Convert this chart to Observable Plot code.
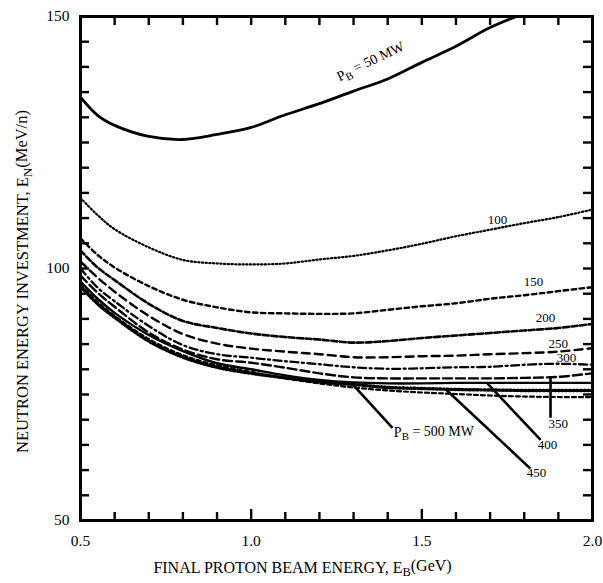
<!DOCTYPE html>
<html><head><meta charset="utf-8">
<script src="https://cdn.jsdelivr.net/npm/d3@7"></script>
<script src="https://cdn.jsdelivr.net/npm/@observablehq/plot@0.6"></script>
<style>body{margin:0;background:#fff} svg{display:block;overflow:visible}</style>
</head><body><div id="chart"></div>
<script>
// Final proton beam energy (GeV)
const xGrid = [0.5, 0.55, 0.6, 0.7, 0.8, 0.9, 1.0, 1.1, 1.2, 1.3, 1.4, 1.5, 1.6, 1.7, 1.8, 1.9, 2.0];
// Neutron energy investment (MeV/n) for each beam power
const pb50  = [134.0, 130.4, 128.4, 126.2, 125.6, 126.6, 128.0, 130.5, 132.7, 135.2, 137.6, 140.9, 144.1, 147.8, 150.6, null, null];
const pb100 = [114.0, 110.6, 107.8, 104.2, 101.7, 101.0, 100.8, 101.0, 101.8, 102.5, 103.6, 104.9, 106.4, 107.7, 109.0, 110.2, 111.7];
const pb150 = [106.0, 102.7, 100.2, 96.5, 93.8, 92.3, 91.3, 91.1, 91.0, 91.1, 91.8, 92.5, 93.1, 94.0, 94.7, 95.5, 96.3];
const pb200 = [103.6, 100.2, 97.7, 93.0, 89.6, 88.2, 87.1, 86.4, 85.9, 85.3, 85.6, 86.2, 86.7, 87.2, 87.7, 88.2, 89.0];
const pb250 = [101.4, 98.2, 95.4, 90.6, 87.0, 85.1, 84.1, 83.5, 83.0, 82.4, 82.4, 82.6, 82.7, 83.0, 83.2, 83.5, 84.2];
const pb300 = [100.0, 96.2, 93.5, 88.6, 84.8, 83.0, 82.3, 81.6, 81.0, 80.4, 80.1, 80.2, 80.4, 80.5, 80.9, 81.1, 80.9];
const pb350 = [98.6, 95.2, 92.4, 87.3, 83.9, 82.0, 81.3, 80.3, 79.2, 78.4, 78.2, 78.2, 78.2, 78.2, 78.3, 78.5, 79.2];
const pb400 = [97.4, 94.0, 91.2, 86.8, 83.6, 81.2, 80.0, 78.8, 77.9, 77.4, 77.2, 77.2, 77.3, 77.3, 77.3, 77.3, 77.3];
const pb450 = [96.4, 93.0, 90.3, 85.6, 82.4, 80.4, 79.2, 78.3, 77.5, 77.0, 76.4, 76.2, 76.0, 75.9, 75.8, 75.8, 75.8];
const pb500 = [96.8, 93.4, 90.6, 86.0, 82.8, 80.8, 79.5, 78.2, 77.2, 76.4, 75.8, 75.4, 75.1, 74.8, 74.6, 74.5, 74.5];

const powers = [50, 100, 150, 200, 250, 300, 350, 400, 450, 500];
const seriesValues = [pb50, pb100, pb150, pb200, pb250, pb300, pb350, pb400, pb450, pb500];

// tick values
const xTickLabels = [0.5, 1.0, 1.5, 2.0];
const xTicksMinor = [0.6, 0.7, 0.8, 0.9, 1.1, 1.2, 1.3, 1.4, 1.6, 1.7, 1.8, 1.9];
const xTicksMajor = [1.0, 1.5];
const yTickLabels = [50, 100, 150];
const yTicks = [55, 60, 65, 70, 75, 80, 85, 90, 95, 100, 105, 110, 115, 120, 125, 130, 135, 140, 145];

// curve labels (text, x, y)
const labelText = ["100", "150", "200", "250", "300"];
const labelX = [1.722, 1.827, 1.862, 1.90, 1.924];
const labelY = [109.6, 97.3, 90.2, 85.1, 82.2];

// leader lines for 350..500
const leaderText = ["350", "400", "450", "P_B = 500 MW"];
const leaderX1 = [1.877, 1.692, 1.569, 1.300];
const leaderY1 = [78.6, 77.2, 76.1, 76.8];
const leaderX2 = [1.877, 1.848, 1.818, 1.414];
const leaderY2 = [70.4, 66.0, 60.3, 68.4];
const leaderLabelX = [1.90, 1.868, 1.836, 1.418];
const leaderLabelY = [69.2, 65.0, 59.4, 67.5];

const rows = [];
powers.forEach((p, i) => xGrid.forEach((x, j) => {
  if (seriesValues[i][j] != null) rows.push({power: p, x, y: seriesValues[i][j]});
}));
const leaders = leaderText.map((t, i) => ({t, x1: leaderX1[i], y1: leaderY1[i], x2: leaderX2[i], y2: leaderY2[i], lx: leaderLabelX[i], ly: leaderLabelY[i]}));
const curveLabels = labelText.map((t, i) => ({t, x: labelX[i], y: labelY[i]}));

const styles = {
  50:  {strokeWidth: 2.8, dash: null},
  100: {strokeWidth: 2.2, dash: "1.3,2.4"},
  150: {strokeWidth: 2.4, dash: "4.5,3.5"},
  200: {strokeWidth: 2.6, dash: "6,2.6"},
  250: {strokeWidth: 2.4, dash: "8,5"},
  300: {strokeWidth: 2.3, dash: "8,3.5,2,3.5"},
  350: {strokeWidth: 2.4, dash: "9,4"},
  400: {strokeWidth: 2.4, dash: null},
  450: {strokeWidth: 3.4, dash: "1.5,2.2"},
  500: {strokeWidth: 2.2, dash: "4,3"}
};

const serif = "Liberation Serif, Times New Roman, serif";
const innerH = 583 - 16 - 63;
const innerW = 603 - 80 - 11;

const lineMarks = powers.map(p => Plot.line(rows.filter(d => d.power === p), {
  x: "x", y: "y", curve: "catmull-rom", stroke: "black",
  strokeWidth: styles[p].strokeWidth, strokeDasharray: styles[p].dash, clip: true
}));

const chart = Plot.plot({
  width: 603, height: 583,
  marginLeft: 80, marginRight: 11, marginTop: 16, marginBottom: 63,
  style: {fontFamily: serif, background: "white", color: "black"},
  x: {domain: [0.5, 2.0]},
  y: {domain: [50, 150]},
  marks: [
    ...lineMarks,
    // inward ticks
    Plot.tickX(xTicksMinor, {x: d => d, insetTop: innerH - 8, strokeWidth: 2.4}),
    Plot.tickX(xTicksMajor, {x: d => d, insetTop: innerH - 11, strokeWidth: 2.4}),
    Plot.tickX(xTicksMinor.concat(xTicksMajor), {x: d => d, insetBottom: innerH - 9, strokeWidth: 2.4}),
    Plot.tickY(yTicks, {y: d => d, insetRight: innerW - 9, strokeWidth: 2.4}),
    Plot.tickY(yTicks, {y: d => d, insetLeft: innerW - 9, strokeWidth: 2.4}),
    Plot.frame({stroke: "black", strokeWidth: 3}),
    Plot.axisX({ticks: xTickLabels, tickFormat: d3.format(".1f"), tickSize: 0, tickPadding: 14, fontSize: 15.5, label: null}),
    Plot.axisY({ticks: yTickLabels, tickSize: 0, tickPadding: 11, fontSize: 15.5, label: null}),
    // leader lines
    Plot.link(leaders, {x1: "x1", y1: "y1", x2: "x2", y2: "y2", stroke: "black", strokeWidth: 2.6}),
    Plot.text(leaders.filter(d => d.t.length <= 3), {x: "lx", y: "ly", text: "t", textAnchor: "middle", fontSize: 13, fill: "black"}),
    Plot.text(leaders.filter(d => d.t.length > 3), {x: "lx", y: "ly", text: "t", textAnchor: "start", fontSize: 14, fill: "black"}),
    Plot.text(curveLabels, {x: "x", y: "y", text: "t", fontSize: 13, fill: "black"}),
    Plot.text(["P_B = 50 MW"], {x: () => 1.35, y: () => 141.0, text: d => d, rotate: -25, fontSize: 14, fill: "black"}),
    // axis titles
    Plot.text(["NEUTRON ENERGY INVESTMENT, E_N(MeV/n)"], {frameAnchor: "left", textAnchor: "middle", dx: -58, dy: 13, rotate: -90, text: d => d, fontSize: 16.5, fill: "black"}),
    Plot.text(["FINAL PROTON BEAM ENERGY, E_B(GeV)"], {frameAnchor: "bottom", dx: -34, dy: 52, text: d => d, fontSize: 16, fill: "black"})
  ]
});

// turn "_X" into a subscript tspan
d3.select(chart).selectAll("text").each(function() {
  const el = this;
  if (el.querySelector("tspan")) return;
  const s = el.textContent;
  const m = s.match(/^(.*?)_([A-Z])(.*)$/);
  if (!m) return;
  el.textContent = "";
  const sel = d3.select(el);
  sel.append("tspan").text(m[1]);
  sel.append("tspan").attr("dy", "0.3em").attr("font-size", "0.78em").text(m[2]);
  sel.append("tspan").attr("dy", "-0.3em").text(m[3]);
});

document.getElementById("chart").appendChild(chart);
</script>
</body></html>
